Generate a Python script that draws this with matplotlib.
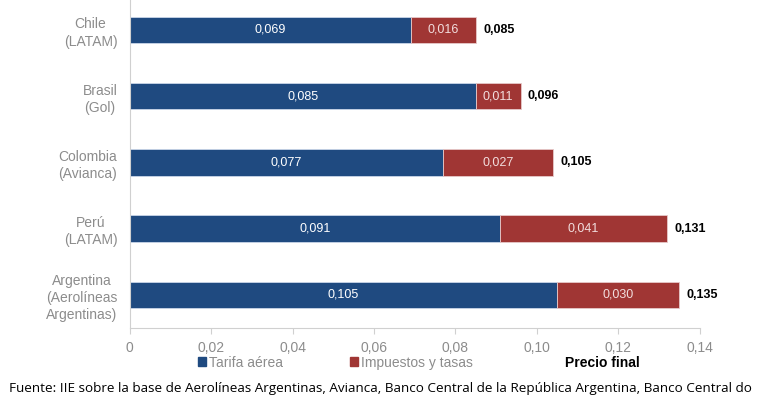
import matplotlib.pyplot as plt
from matplotlib.patches import Patch

plt.rcParams["font.family"] = ["Liberation Sans", "DejaVu Sans"]

paises = ["Argentina\n(Aerolíneas\nArgentinas)", "Perú\n(LATAM)", "Colombia\n(Avianca)",
          "Brasil\n(Gol)", "Chile\n(LATAM)"]
tarifa = [0.105, 0.091, 0.077, 0.085, 0.069]
impuestos = [0.030, 0.041, 0.027, 0.011, 0.016]
precio_final = [0.135, 0.131, 0.105, 0.096, 0.085]
xticks = [0, 0.02, 0.04, 0.06, 0.08, 0.10, 0.12, 0.14]

AZUL = "#1f4a80"
ROJO = "#a03634"
GRIS = "#8c8c8c"

def coma(v, d=3):
    return f"{v:.{d}f}".replace(".", ",")

fig = plt.figure(figsize=(7.68, 4.0), dpi=100)
ax = fig.add_axes([0.169, 0.18, 0.742, 0.82])

pos = list(range(len(paises)))
ax.barh(pos, tarifa, height=0.4, color=AZUL, edgecolor="#c9d6e8", linewidth=0.6)
ax.barh(pos, impuestos, left=tarifa, height=0.4, color=ROJO, edgecolor="#e6c9c9", linewidth=0.6)

for i in pos:
    fin = tarifa[i] + impuestos[i]
    ax.text(tarifa[i] / 2, i, coma(tarifa[i]), ha="center", va="center",
            color="white", fontsize=9)
    ax.text(tarifa[i] + impuestos[i] / 2, i, coma(impuestos[i]), ha="center", va="center",
            color="#f2dede", fontsize=9)
    ax.text(fin + 0.0018, i, coma(precio_final[i]), ha="left", va="center",
            color="black", fontsize=9, fontweight="bold")

ax.set_xlim(0, 0.14)
ax.set_ylim(-0.5, 4.45)
ax.set_xticks(xticks)
ax.set_xticklabels(["0"] + [coma(t, 2) for t in xticks[1:]], color=GRIS, fontsize=10)
ax.set_yticks(pos)
ax.set_yticklabels(paises, color=GRIS, fontsize=10, multialignment="center", linespacing=1.3)
ax.tick_params(axis="y", length=0, pad=9)
ax.tick_params(axis="x", length=4, color="#d0d0d0", pad=5)
for s in ["top", "right"]:
    ax.spines[s].set_visible(False)
ax.spines["left"].set_color("#d0d0d0")
ax.spines["bottom"].set_color("#d0d0d0")

handles = [Patch(color=AZUL), Patch(color=ROJO)]
leg = fig.legend(handles, ["Tarifa aérea", "Impuestos y tasas"],
                 loc="center left", bbox_to_anchor=(0.258, 0.093), ncol=2, frameon=False,
                 fontsize=10, handlelength=0.6, handleheight=0.6, handletextpad=0.2,
                 columnspacing=4.8, borderpad=0, borderaxespad=0)
for t in leg.get_texts():
    t.set_color(GRIS)
fig.text(0.736, 0.093, "Precio final", ha="left", va="center", fontsize=10,
         fontweight="bold", color="black")

fig.text(0.012, 0.02, "Fuente: IIE sobre la base de Aerolíneas Argentinas, Avianca, Banco Central "
         "de la República Argentina, Banco Central do", fontsize=9.7, family=["Open Sans", "DejaVu Sans"],
         color="black")

fig.savefig("out.png", dpi=100)
